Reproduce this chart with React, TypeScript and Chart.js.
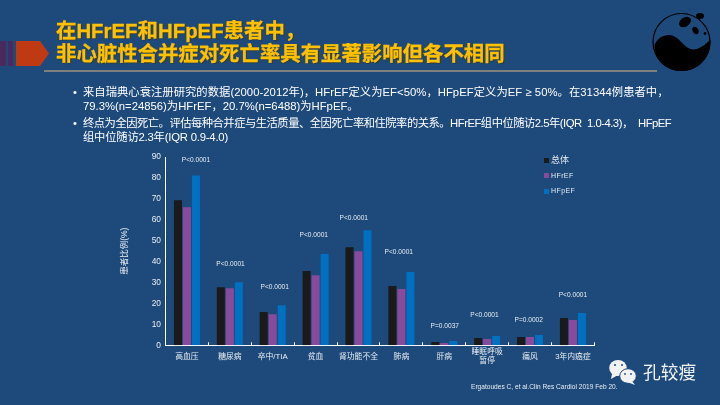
import React, { useEffect, useRef } from "react";
import { Chart, registerables } from "chart.js";

Chart.register(...registerables);

const categories: (string | string[])[] = ["高血压", "糖尿病", "卒中/TIA", "贫血", "肾功能不全", "肺病", "肝病", ["睡眠呼吸", "暂停"], "痛风", "3年内癌症"];
const overall = [69.3, 27.8, 15.9, 35.5, 46.9, 28.3, 1.6, 3.5, 4, 13];
const hfref = [66, 27.3, 14.9, 33.5, 45, 26.9, 1.1, 3, 4, 12.1];
const hfpef = [81.2, 30.2, 19.2, 43.6, 55, 35, 2.1, 4.5, 4.9, 15.4];
const pLabels = ["P<0.0001", "P<0.0001", "P<0.0001", "P<0.0001", "P<0.0001", "P<0.0001", "P=0.0037", "P<0.0001", "P=0.0002", "P<0.0001"];
const pLevels = [88.4, 38.8, 28, 52.6, 60.7, 44.5, 9.2, 14.4, 12, 24];
const pShift = [9, 0.7, 2, -1.8, -4.7, -2.6, 0.5, -2.7, -1.3, 0];
const yTicks = [0, 10, 20, 30, 40, 50, 60, 70, 80, 90];

const CJK = '"Liberation Sans", "Noto Sans CJK SC", sans-serif';
const BG = "#1d4a7b";
const TEXT = "#e8edf3";

const pLabelPlugin = {
  id: "pLabels",
  afterDatasetsDraw(chart: any) {
    const { ctx, scales } = chart;
    ctx.save();
    ctx.font = `6.6px ${CJK}`;
    ctx.fillStyle = TEXT;
    ctx.textAlign = "center";
    ctx.textBaseline = "middle";
    pLabels.forEach((t, i) => {
      ctx.fillText(t, scales.x.getPixelForValue(i) + pShift[i], scales.y.getPixelForValue(pLevels[i]));
    });
    ctx.restore();
  },
};

function abs(left: number, top: number, extra: React.CSSProperties = {}): React.CSSProperties {
  return { position: "absolute", left, top, ...extra };
}

export default function App() {
  const ref = useRef<HTMLCanvasElement>(null);
  useEffect(() => {
    document.body.style.margin = "0";
    document.body.style.background = BG;
    const chart = new Chart(ref.current!, {
      type: "bar",
      plugins: [pLabelPlugin],
      data: {
        labels: categories,
        datasets: [
          { label: "总体", data: overall, backgroundColor: "#1a1a1a" },
          { label: "HFrEF", data: hfref, backgroundColor: "#8a4a9c" },
          { label: "HFpEF", data: hfpef, backgroundColor: "#0070c0" },
        ],
      },
      options: {
        animation: false,
        responsive: false,
        devicePixelRatio: 1,
        layout: { padding: { top: 6.7, right: 6.3, left: 0, bottom: 0 } },
        datasets: { bar: { categoryPercentage: 0.63, barPercentage: 0.89 } },
        plugins: { legend: { display: false }, tooltip: { enabled: false } },
        scales: {
          x: {
            position: "bottom",
            afterFit(axis: any) {
              axis.height = 19.7;
            },
            grid: { display: true, drawOnChartArea: false, drawTicks: true, tickLength: -3, tickColor: "#ffffff", offset: true },
            border: { color: "#ffffff", width: 1 },
            ticks: { color: TEXT, font: { size: 7.8, family: CJK, lineHeight: 1.15 }, maxRotation: 0, autoSkip: false, padding: 10, crossAlign: "center" } as any,
          },
          y: {
            min: 0,
            max: 90,
            afterBuildTicks(axis: any) {
              axis.ticks = yTicks.map((value) => ({ value }));
            },
            afterFit(axis: any) {
              axis.width = 50.5;
            },
            grid: { display: false, drawTicks: true, tickLength: 2.5, tickColor: "#ffffff" },
            border: { color: "#ffffff", width: 1 },
            ticks: { color: TEXT, font: { size: 8.4, family: CJK }, padding: 2 },
            title: { display: true, text: "患者比例(%)", color: TEXT, font: { size: 8.5, family: CJK }, padding: { top: 5, bottom: 0 } },
          },
        },
      },
    });
    return () => chart.destroy();
  }, []);

  const titleStyle: React.CSSProperties = {
    position: "absolute",
    left: 56,
    color: "#ffc000",
    fontFamily: CJK,
    fontWeight: 700,
    fontSize: 20.4,
    lineHeight: "26px",
    whiteSpace: "nowrap",
    WebkitTextStroke: "0.3px #ffc000",
    textShadow: "1px 1px 1px rgba(60,50,20,0.7)",
  };
  const bodyStyle: React.CSSProperties = {
    position: "absolute",
    left: 83,
    color: "#ffffff",
    fontFamily: CJK,
    fontSize: 11.3,
    lineHeight: "15px",
    whiteSpace: "pre",
  };
  const legendStyle: React.CSSProperties = { color: TEXT, fontFamily: CJK, whiteSpace: "nowrap" };

  return (
    <div style={{ position: "relative", width: 720, height: 405, background: BG, overflow: "hidden" }}>
      <div style={abs(115, 150, { width: 486, height: 215 })}>
        <canvas ref={ref} width={486} height={215} style={{ display: "block" }} />
      </div>

      <svg width={720} height={405} style={abs(0, 0, { pointerEvents: "none" })}>
        <rect x={0} y={41} width={6} height={25} fill="#4a2a5c" />
        <rect x={8} y={41} width={5} height={25} fill="#4a2a5c" />
        <polygon points="16,41 40,41 49,53.5 40,66 16,66" fill="#bf3a12" />
        <rect x={44} y={70} width={613} height={2} fill="#7f7f7f" />
        <circle cx={681.5} cy={42} r={28.5} fill={BG} stroke="#000" strokeWidth={1.2} />
        <path d="M654.5,45 C657,38 664,34.5 670,35 C678,36 682,44 688,48 C695,52 703,47 710.5,39.5 C711,58 698,71 681.5,71 C666,71 654,60 654.5,45 Z" fill="#000" />
        <ellipse cx={685} cy={22} rx={6.5} ry={4.5} transform="rotate(-35 685 22)" fill="#000" />
        <ellipse cx={695.5} cy={30.5} rx={2.8} ry={4} transform="rotate(-30 695.5 30.5)" fill="#000" />
        <ellipse cx={700} cy={16} rx={4} ry={3} fill="#000" />
        <circle cx={705} cy={33.5} r={1.4} fill="#000" />
        <ellipse cx={618} cy={368} rx={8.8} ry={8} fill="#f2f2f2" />
        <polygon points="612,374 611,379 618,375" fill="#f2f2f2" />
        <ellipse cx={628} cy={376} rx={8.3} ry={7.3} fill="#f2f2f2" stroke={BG} strokeWidth={1} />
        <polygon points="632,381 635,385 627,382" fill="#f2f2f2" />
        <circle cx={615} cy={365} r={1} fill={BG} />
        <circle cx={622} cy={365} r={1} fill={BG} />
        <circle cx={625} cy={374} r={0.9} fill={BG} />
        <circle cx={631} cy={374} r={0.9} fill={BG} />
        <rect x={544} y={158} width={5} height={5} fill="#1a1a1a" />
        <rect x={544} y={173} width={5} height={5} fill="#8a4a9c" />
        <rect x={544} y={189} width={5} height={5} fill="#0070c0" />
      </svg>

      <div style={{ ...titleStyle, top: 18 }}>在HFrEF和HFpEF患者中，</div>
      <div style={{ ...titleStyle, top: 41 }}>非心脏性合并症对死亡率具有显著影响但各不相同</div>

      <div style={{ ...bodyStyle, left: 73, top: 85 }}>•</div>
      <div style={{ ...bodyStyle, top: 85, letterSpacing: 0.04 }}>来自瑞典心衰注册研究的数据(2000-2012年)，HFrEF定义为EF&lt;50%，HFpEF定义为EF ≥ 50%。在31344例患者中，</div>
      <div style={{ ...bodyStyle, top: 99 }}>79.3%(n=24856)为HFrEF，20.7%(n=6488)为HFpEF。</div>
      <div style={{ ...bodyStyle, left: 73, top: 116 }}>•</div>
      <div style={{ ...bodyStyle, top: 116, letterSpacing: -0.5 }}>终点为全因死亡。评估每种合并症与生活质量、全因死亡率和住院率的关系。HFrEF组中位随访2.5年(IQR  1.0-4.3)，  HFpEF</div>
      <div style={{ ...bodyStyle, top: 130, letterSpacing: -0.2 }}>组中位随访2.3年(IQR 0.9-4.0)</div>

      <div style={abs(551, 154, { ...legendStyle, fontSize: 9, lineHeight: "12px" })}>总体</div>
      <div style={abs(551, 171, { ...legendStyle, fontSize: 7, lineHeight: "10px", letterSpacing: 0.4 })}>HFrEF</div>
      <div style={abs(551, 186, { ...legendStyle, fontSize: 7, lineHeight: "10px", letterSpacing: 0.4 })}>HFpEF</div>

      <div style={abs(471, 382, { color: TEXT, fontFamily: CJK, fontSize: 6.6, lineHeight: "10px", whiteSpace: "nowrap" })}>Ergatoudes C, et al.Clin Res Cardiol 2019 Feb 20.</div>
      <div style={abs(643, 361, { color: "#f2f2f2", fontFamily: CJK, fontSize: 17.7, lineHeight: "24px", whiteSpace: "nowrap" })}>孔较瘦</div>
    </div>
  );
}
